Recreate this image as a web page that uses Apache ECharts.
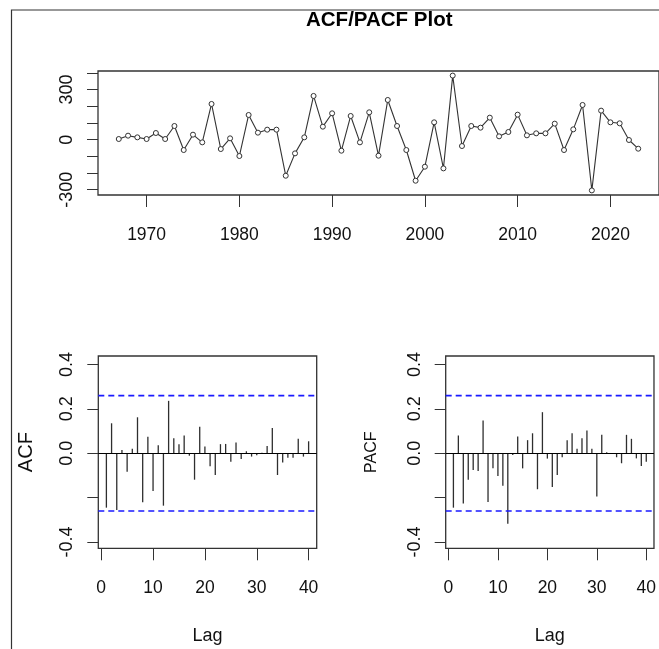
<!DOCTYPE html>
<html>
<head>
<meta charset="utf-8">
<script src="https://cdn.jsdelivr.net/npm/echarts@6/dist/echarts.min.js"></script>
<style>
  html, body { margin: 0; padding: 0; background: #fff; }
  #main { width: 659px; height: 649px; }
</style>
</head>
<body>
<div id="main"></div>
<script>
// series
let years = [1967, 1968, 1969, 1970, 1971, 1972, 1973, 1974, 1975, 1976,
    1977, 1978, 1979, 1980, 1981, 1982, 1983, 1984, 1985, 1986,
    1987, 1988, 1989, 1990, 1991, 1992, 1993, 1994, 1995, 1996,
    1997, 1998, 1999, 2000, 2001, 2002, 2003, 2004, 2005, 2006,
    2007, 2008, 2009, 2010, 2011, 2012, 2013, 2014, 2015, 2016,
    2017, 2018, 2019, 2020, 2021, 2022, 2023];
let values = [4, 24, 14, 4, 40, 4, 82, -62, 30, -16,
    214, -56, 8, -98, 148, 42, 60, 60, -216, -82,
    14, 262, 78, 158, -66, 142, -16, 164, -96, 238,
    82, -62, -246, -162, 104, -172, 384, -38, 82, 72,
    132, 20, 46, 150, 26, 38, 38, 96, -62, 62,
    208, -304, 174, 104, 98, -2, -54];

let lags = [1, 2, 3, 4, 5, 6, 7, 8, 9, 10, 11, 12, 13, 14, 15, 16, 17, 18, 19, 20,
    21, 22, 23, 24, 25, 26, 27, 28, 29, 30, 31, 32, 33, 34, 35, 36, 37, 38, 39, 40];
let acfValues = [-0.245, 0.135, -0.255, 0.015, -0.083, 0.020, 0.162, -0.221, 0.074, -0.170,
    0.036, -0.236, 0.236, 0.068, 0.041, 0.080, -0.011, -0.119, 0.119, 0.030,
    -0.059, -0.098, 0.041, 0.042, -0.038, 0.048, -0.026, 0.009, -0.015, -0.009,
    0.002, 0.033, 0.114, -0.098, -0.042, -0.020, -0.020, 0.065, -0.015, 0.054];
let pacfValues = [-0.245, 0.080, -0.226, -0.119, -0.075, -0.080, 0.147, -0.219, -0.068, -0.102,
    -0.146, -0.318, -0.008, 0.075, -0.068, 0.059, 0.090, -0.162, 0.185, -0.024,
    -0.152, -0.098, -0.018, 0.059, 0.090, 0.020, 0.068, 0.102, 0.020, -0.195,
    0.083, 0.004, -0.003, -0.018, -0.045, 0.083, 0.065, -0.023, -0.057, -0.038];
let ciLimit = 0.26;

// tick labels
let yearTicks = [1970, 1980, 1990, 2000, 2010, 2020];
let valueTicks = [-300, -200, -100, 0, 100, 200, 300, 400];
let valueLabels = [-300, 0, 300];
let lagTicks = [0, 10, 20, 30, 40];
let corTicks = [-0.4, -0.2, 0, 0.2, 0.4];
let corLabels = [-0.4, 0, 0.2, 0.4];

// lag axis range (R pads the 1..40 range by 4%)
let lagMin = -0.56, lagMax = 41.56;

let ink = '#333';
let font = '"Liberation Sans", Arial, sans-serif';

function xAxisFor(gridIndex, min, max, ticks, margin, name) {
    return {
        type: 'value', gridIndex: gridIndex, min: min, max: max,
        splitLine: { show: false },
        axisLine: { show: false, onZero: false },
        axisTick: { show: true, length: 12, customValues: ticks, lineStyle: { color: ink } },
        axisLabel: {
            customValues: ticks, margin: margin, color: '#111',
            fontFamily: font, fontSize: 17.5, formatter: v => String(v)
        },
        name: name || '', nameLocation: 'middle', nameGap: 79,
        nameTextStyle: { fontFamily: font, fontSize: 18, color: '#111' }
    };
}

function yAxisFor(gridIndex, min, max, ticks, labels, margin, name, nameGap, nameSize, fmt) {
    return {
        type: 'value', gridIndex: gridIndex, min: min, max: max,
        splitLine: { show: false },
        axisLine: { show: false, onZero: false },
        axisTick: { show: true, length: 11, customValues: ticks, lineStyle: { color: ink } },
        axisLabel: {
            customValues: labels, rotate: 90, margin: margin, color: '#111',
            fontFamily: font, fontSize: 18, align: 'center', verticalAlign: 'middle',
            formatter: fmt
        },
        name: name || '', nameLocation: 'middle', nameRotate: 90, nameGap: nameGap,
        nameTextStyle: { fontFamily: font, fontSize: nameSize, color: '#111' }
    };
}

function corSeries(idx, vals) {
    return {
        type: 'bar', xAxisIndex: idx, yAxisIndex: idx,
        data: lags.map((l, i) => [l, vals[i]]),
        barWidth: 1.3,
        itemStyle: { color: '#2e2e2e' },
        silent: true,
        markLine: {
            silent: true, symbol: 'none', label: { show: false },
            lineStyle: { color: '#000', type: 'solid', width: 1.2 },
            data: [{ yAxis: 0 }]
        }
    };
}

// dashed significance bound across the whole panel
function ciSeries(idx, level) {
    return {
        type: 'line', xAxisIndex: idx, yAxisIndex: idx,
        data: [[lagMin, level], [lagMax, level]],
        symbol: 'none', silent: true, z: 3,
        lineStyle: { color: '#1a1aff', type: [6, 4], width: 1.7 },
        itemStyle: { color: '#1a1aff' }
    };
}

let myChart = echarts.init(document.getElementById('main'), null, { renderer: 'canvas' });

let option = {
    backgroundColor: '#fff',
    animation: false,
    title: {
        text: 'ACF/PACF Plot', left: 306, top: 10, padding: 0,
        textStyle: { fontFamily: font, fontWeight: 'bold', fontSize: 20.5, color: '#000' }
    },
    graphic: [{
        type: 'rect', silent: true,
        shape: { x: 11.5, y: 10, width: 700, height: 700 },
        style: { fill: 'none', stroke: ink, lineWidth: 1.2 }
    }],
    grid: [
        { left: 98, top: 71, width: 564, height: 124, show: true, borderColor: ink, borderWidth: 1.3, backgroundColor: 'transparent' },
        { left: 98.3, top: 356, width: 218.4, height: 192.3, show: true, borderColor: ink, borderWidth: 1.3, backgroundColor: 'transparent' },
        { left: 445.7, top: 356, width: 218.4, height: 192.3, show: true, borderColor: ink, borderWidth: 1.3, backgroundColor: 'transparent' }
    ],
    xAxis: [
        xAxisFor(0, 1964.76, 2025.24, yearTicks, 31),
        xAxisFor(1, lagMin, lagMax, lagTicks, 31, 'Lag'),
        xAxisFor(2, lagMin, lagMax, lagTicks, 31, 'Lag')
    ],
    yAxis: [
        yAxisFor(0, -331.5, 411.5, valueTicks, valueLabels, 31, '', 0, 18, v => String(v)),
        yAxisFor(1, -0.428, 0.438, corTicks, corLabels, 31, 'ACF', 62, 20, v => v.toFixed(1)),
        yAxisFor(2, -0.428, 0.438, corTicks, corLabels, 31, 'PACF', 66, 16, v => v.toFixed(1))
    ],
    series: [
        {
            type: 'line', xAxisIndex: 0, yAxisIndex: 0,
            data: years.map((y, i) => [y, values[i]]),
            symbol: 'circle', symbolSize: 5,
            lineStyle: { color: ink, width: 1.1 },
            itemStyle: { color: '#fff', borderColor: ink, borderWidth: 1 },
            silent: true
        },
        corSeries(1, acfValues),
        corSeries(2, pacfValues),
        ciSeries(1, ciLimit), ciSeries(1, -ciLimit),
        ciSeries(2, ciLimit), ciSeries(2, -ciLimit)
    ]
};

myChart.setOption(option);
</script>
</body>
</html>
